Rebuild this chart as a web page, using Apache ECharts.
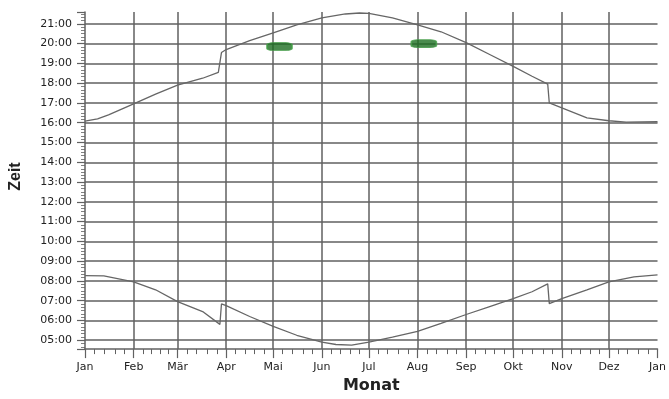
<!DOCTYPE html>
<html><head><meta charset="utf-8">
<script src="https://cdn.jsdelivr.net/npm/echarts@6/dist/echarts.min.js"></script>
<style>html,body{margin:0;padding:0;background:#fff}#c{width:669px;height:399px}</style>
</head><body><div id="c"></div>
<script>
// ---- data ----
const monthLabels = ['Jan','Feb','Mär','Apr','Mai','Jun','Jul','Aug','Sep','Okt','Nov','Dez','Jan'];
const monthStartDays = [0,31,59,90,120,151,181,212,243,273,304,334,365];

const sunsetDays  = [0,8,15,31,45,59,75,85,87,90,105,120,135,151,166,175,181,196,212,227,243,258,273,285,295,296,304,320,334,345,365];
const sunsetTimes = ['16:05','16:12','16:24','16:57','17:27','17:54','18:15','18:33','19:33','19:42','20:09','20:33','20:57','21:18','21:30','21:33','21:32','21:18','20:57','20:36','20:03','19:27','18:51','18:21','17:57','17:00','16:45','16:15','16:06','16:02','16:03'];

const sunriseDays  = [0,12,31,45,59,75,86,87,90,105,120,135,151,160,170,181,196,212,227,243,258,273,285,295,296,304,320,334,350,365];
const sunriseTimes = ['08:16','08:15','07:57','07:33','06:57','06:27','05:48','06:50','06:45','06:12','05:42','05:15','04:54','04:47','04:45','04:54','05:09','05:27','05:51','06:18','06:42','07:06','07:27','07:51','06:51','07:06','07:33','07:57','08:12','08:18'];

const markerDays  = [124, 216];
const markerTimes = ['19:51', '20:00'];

const yLabelMin = 4.55, yLabelMax = 21.6;

// ---- helpers ----
function toHours(s){ const p = s.split(':'); return +p[0] + (+p[1])/60; }
function pairs(days, times){ return days.map((d,i)=>[d, toHours(times[i])]); }
const nDays = 366;
const cats = Array.from({length:nDays}, (_,i)=>String(i));
const monthSet = new Set(monthStartDays);
const minorSet = new Set();
for (let m=0;m<12;m++){
  const s = monthStartDays[m], L = monthStartDays[m+1]-s;
  for (let k=1;k<5;k++) minorSet.add(Math.round(s + k*L/5));
}
const labelOf = {};
monthStartDays.forEach((d,i)=>{ labelOf[d] = monthLabels[i]; });
function pad(n){ return (n<10?'0':'')+n; }

const gray = '#616161';
const txt = '#222';
const chart = echarts.init(document.getElementById('c'), null, {renderer:'canvas'});
chart.setOption({
  backgroundColor:'#fff',
  animation:false,
  grid:{left:82, right:11, top:12, bottom:46},
  xAxis:[{
    type:'category', data:cats, boundaryGap:false, position:'bottom', offset:0,
    axisLine:{show:true, lineStyle:{color:gray, width:1.5}},
    axisTick:{show:true, length:9, interval:(i)=>monthSet.has(i), lineStyle:{color:gray, width:1.2}},
    axisLabel:{show:true, interval:(i)=>monthSet.has(i), formatter:(v)=>labelOf[+v]||'', margin:13,
      fontFamily:'DejaVu Sans', fontSize:11, color:txt},
    splitLine:{show:true, interval:(i)=>monthSet.has(i) && i!==365 && i!==0, lineStyle:{color:gray, width:1.5}},
    name:'Monat', nameLocation:'middle', nameGap:27,
    nameTextStyle:{fontFamily:'DejaVu Sans', fontSize:16, fontWeight:'bold', color:txt}
  },{
    type:'category', data:cats, boundaryGap:false, position:'bottom', offset:0,
    axisLine:{show:false},
    axisTick:{show:true, length:5, interval:(i)=>minorSet.has(i), lineStyle:{color:gray, width:1}},
    axisLabel:{show:false}, splitLine:{show:false}
  }],
  yAxis:{
    type:'value', min:yLabelMin, max:yLabelMax, splitNumber:17, minInterval:1, maxInterval:1,
    axisLine:{show:true, lineStyle:{color:gray, width:1.5}},
    axisTick:{show:true, length:8, lineStyle:{color:gray, width:1.2}},
    minorTick:{show:true, splitNumber:6, length:4, lineStyle:{color:gray, width:0.8}},
    axisLabel:{showMinLabel:false, showMaxLabel:false, margin:13,
      formatter:(v)=>pad(Math.round(v))+':00', fontFamily:'DejaVu Sans', fontSize:11, color:txt},
    splitLine:{show:true, showMinLine:false, showMaxLine:false, lineStyle:{color:gray, width:1.5}},
    name:'Zeit', nameLocation:'middle', nameRotate:90, nameGap:61,
    nameTextStyle:{fontFamily:'Liberation Sans', fontSize:16, fontWeight:'bold', color:txt, padding:[0,0,0,8]}
  },
  series:[
    {type:'line', name:'Sonnenuntergang', data:pairs(sunsetDays, sunsetTimes), showSymbol:false, smooth:false,
      lineStyle:{color:'#666', width:1.3}},
    {type:'line', name:'Sonnenaufgang', data:pairs(sunriseDays, sunriseTimes), showSymbol:false, smooth:false,
      lineStyle:{color:'#666', width:1.3}},
    {type:'scatter', data:pairs(markerDays, markerTimes), symbol:'roundRect', symbolSize:[25,8],
      itemStyle:{color:'#1d6e22', borderColor:'#43a047', borderWidth:1}, z:5}
  ]
});
</script></body></html>
